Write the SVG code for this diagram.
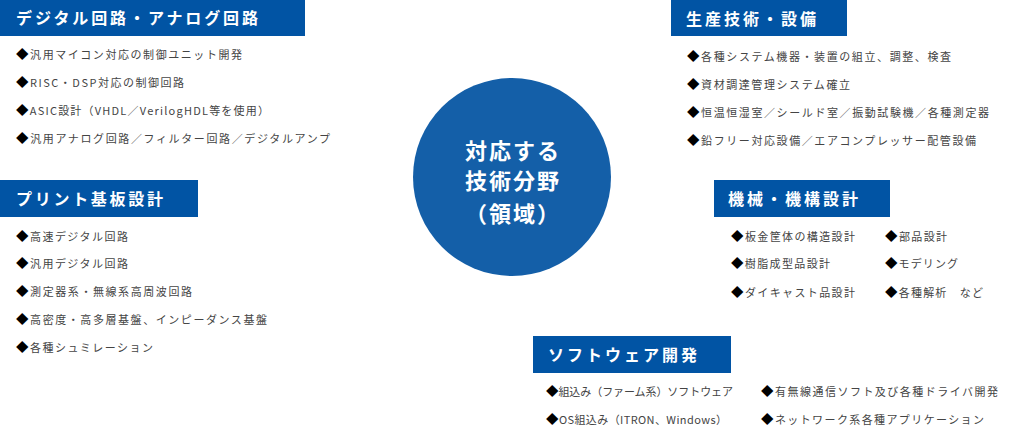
<svg xmlns="http://www.w3.org/2000/svg" width="1014" height="442" viewBox="0 0 1014 442">
<style>
.hd{fill:#0154a4}
.ht{fill:#fff;font-family:"Noto Sans CJK JP","Noto Sans",sans-serif;font-size:16px;font-weight:700}
.it{fill:#444;font-family:"Noto Sans CJK JP","Noto Sans",sans-serif;font-size:11px}
.it tspan.d{fill:#000;font-size:12.5px}
.ct{fill:#fff;font-family:"Noto Sans CJK JP","Noto Sans",sans-serif;font-size:22px;font-weight:700;text-anchor:middle;letter-spacing:2px}
</style>
<rect width="1014" height="442" fill="#fff"/>
<g id="connectors"/>
<g id="center">
<circle cx="512" cy="177" r="99" fill="#145fa8"/>
<text class="ct" x="513" y="159">対応する</text>
<text class="ct" x="513" y="189">技術分野</text>
<text class="ct" x="513" y="222">（領域）</text>
</g>
<g id="digital">
<rect class="hd" x="0" y="0" width="305" height="36"/>
<text class="ht" x="16" y="24" textLength="242" lengthAdjust="spacing">デジタル回路・アナログ回路</text>
<text class="it" x="16" y="59" textLength="226" lengthAdjust="spacing"><tspan class="d">◆</tspan>汎用マイコン対応の制御ユニット開発</text>
<text class="it" x="16" y="87" textLength="168" lengthAdjust="spacing"><tspan class="d">◆</tspan>RISC・DSP対応の制御回路</text>
<text class="it" x="16" y="115" textLength="253" lengthAdjust="spacing"><tspan class="d">◆</tspan>ASIC設計（VHDL／VerilogHDL等を使用）</text>
<text class="it" x="16" y="143" textLength="314" lengthAdjust="spacing"><tspan class="d">◆</tspan>汎用アナログ回路／フィルター回路／デジタルアンプ</text>
</g>
<g id="pcb">
<rect class="hd" x="0" y="180" width="198" height="37"/>
<text class="ht" x="16" y="205" textLength="147" lengthAdjust="spacing">プリント基板設計</text>
<text class="it" x="16" y="241" textLength="112" lengthAdjust="spacing"><tspan class="d">◆</tspan>高速デジタル回路</text>
<text class="it" x="16" y="268" textLength="112" lengthAdjust="spacing"><tspan class="d">◆</tspan>汎用デジタル回路</text>
<text class="it" x="16" y="296" textLength="176" lengthAdjust="spacing"><tspan class="d">◆</tspan>測定器系・無線系高周波回路</text>
<text class="it" x="16" y="324" textLength="251" lengthAdjust="spacing"><tspan class="d">◆</tspan>高密度・高多層基盤、インピーダンス基盤</text>
<text class="it" x="16" y="352" textLength="137" lengthAdjust="spacing"><tspan class="d">◆</tspan>各種シュミレーション</text>
</g>
<g id="production">
<rect class="hd" x="671" y="0" width="176" height="36"/>
<text class="ht" x="686" y="25" textLength="130" lengthAdjust="spacing">生産技術・設備</text>
<text class="it" x="687" y="61" textLength="264" lengthAdjust="spacing"><tspan class="d">◆</tspan>各種システム機器・装置の組立、調整、検査</text>
<text class="it" x="687" y="89" textLength="163" lengthAdjust="spacing"><tspan class="d">◆</tspan>資材調達管理システム確立</text>
<text class="it" x="687" y="117" textLength="302" lengthAdjust="spacing"><tspan class="d">◆</tspan>恒温恒湿室／シールド室／振動試験機／各種測定器</text>
<text class="it" x="687" y="145" textLength="289" lengthAdjust="spacing"><tspan class="d">◆</tspan>鉛フリー対応設備／エアコンプレッサー配管設備</text>
</g>
<g id="mechanical">
<rect class="hd" x="714" y="180" width="176" height="37"/>
<text class="ht" x="728" y="205" textLength="130" lengthAdjust="spacing">機械・機構設計</text>
<text class="it" x="731" y="241" textLength="124" lengthAdjust="spacing"><tspan class="d">◆</tspan>板金筐体の構造設計</text>
<text class="it" x="731" y="268" textLength="99" lengthAdjust="spacing"><tspan class="d">◆</tspan>樹脂成型品設計</text>
<text class="it" x="731" y="297" textLength="124" lengthAdjust="spacing"><tspan class="d">◆</tspan>ダイキャスト品設計</text>
<text class="it" x="885" y="241" textLength="62" lengthAdjust="spacing"><tspan class="d">◆</tspan>部品設計</text>
<text class="it" x="885" y="268" textLength="73" lengthAdjust="spacing"><tspan class="d">◆</tspan>モデリング</text>
<text class="it" x="885" y="297" textLength="98" lengthAdjust="spacing"><tspan class="d">◆</tspan>各種解析　など</text>
</g>
<g id="software">
<rect class="hd" x="533" y="336" width="198" height="37"/>
<text class="ht" x="548" y="361" textLength="149" lengthAdjust="spacing">ソフトウェア開発</text>
<text class="it" x="546" y="396" textLength="187" lengthAdjust="spacing"><tspan class="d">◆</tspan>組込み（ファーム系）ソフトウェア</text>
<text class="it" x="546" y="424" textLength="181" lengthAdjust="spacing"><tspan class="d">◆</tspan>OS組込み（ITRON、Windows）</text>
<text class="it" x="761" y="396" textLength="237" lengthAdjust="spacing"><tspan class="d">◆</tspan>有無線通信ソフト及び各種ドライバ開発</text>
<text class="it" x="761" y="424" textLength="223" lengthAdjust="spacing"><tspan class="d">◆</tspan>ネットワーク系各種アプリケーション</text>
</g>
</svg>
